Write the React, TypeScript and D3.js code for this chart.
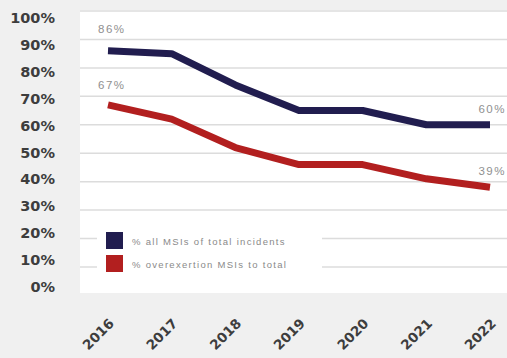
import React from "react";
import * as d3 from "d3";

const years = ["2016", "2017", "2018", "2019", "2020", "2021", "2022"];
const allMSIs = [86, 85, 74, 65, 65, 60, 60];
const overexertion = [67, 62, 52, 46, 46, 41, 38];
const yTicks = [100, 90, 80, 70, 60, 50, 40, 30, 20, 10, 0];
const legendLabels = ["% all MSIs of total incidents", "% overexertion MSIs to total"];
const endLabels = { allStart: "86%", overStart: "67%", allEnd: "60%", overEnd: "39%" };

const W = 507;
const H = 358;
const BLUE = "#211d4f";
const RED = "#b21f1f";

export default function App() {
  const x = d3.scalePoint<string>().domain(years).range([108, 490]);
  const y = d3.scaleLinear().domain([0, 100]).range([295.4, 11]);
  const yLabel = d3.scaleLinear().domain([0, 100]).range([287, 18]);

  const line = d3
    .line<number>()
    .x((_, i) => x(years[i]) as number)
    .y((d) => y(d))
    .curve(d3.curveLinear);

  const plotLeft = 80;
  const plotTop = 10;
  const plotBottom = 293;

  return (
    <svg
      width={W}
      height={H}
      style={{ position: "absolute", left: 0, top: 0, display: "block" }}
    >
      <defs>
        <clipPath id="plot">
          <rect x={plotLeft} y={plotTop} width={W - plotLeft} height={plotBottom - plotTop} />
        </clipPath>
      </defs>
      <rect x={0} y={0} width={W} height={H} fill="#f0f0f0" />
      <rect x={plotLeft} y={plotTop} width={W - plotLeft} height={plotBottom - plotTop} fill="#ffffff" />
      <g clipPath="url(#plot)">
        {yTicks.map((t) => (
          <line
            key={t}
            x1={plotLeft}
            x2={W}
            y1={y(t)}
            y2={y(t)}
            stroke="#dcdcdc"
            strokeWidth={1.5}
          />
        ))}
      </g>
      <rect x={97} y={224} width={225} height={56} fill="#ffffff" />
      {yTicks.map((t) => (
        <text
          key={t}
          x={55}
          y={yLabel(t)}
          textAnchor="end"
          dominantBaseline="central"
          fontFamily="DejaVu Sans"
          fontWeight="bold"
          fontSize={14.5}
          fill="#3d3d3d"
        >
          {t}%
        </text>
      ))}
      <path d={line(allMSIs) || ""} fill="none" stroke={BLUE} strokeWidth={7} strokeLinejoin="round" />
      <path d={line(overexertion) || ""} fill="none" stroke={RED} strokeWidth={7} strokeLinejoin="round" />

      <g fontFamily="Liberation Sans" fontSize={11.5} fill="#909090" letterSpacing={1.5}>
        <text x={98} y={y(allMSIs[0]) - 22} dominantBaseline="central">
          {endLabels.allStart}
        </text>
        <text x={98} y={y(overexertion[0]) - 20} dominantBaseline="central">
          {endLabels.overStart}
        </text>
        <text x={506} y={y(allMSIs[6]) - 16} textAnchor="end" dominantBaseline="central">
          {endLabels.allEnd}
        </text>
        <text x={506} y={y(overexertion[6]) - 16} textAnchor="end" dominantBaseline="central">
          {endLabels.overEnd}
        </text>
      </g>

      {legendLabels.map((l, i) => (
        <g key={l}>
          <rect x={106} y={232 + i * 23} width={17} height={17} fill={i === 0 ? BLUE : RED} />
          <text
            x={132}
            y={241 + i * 23}
            dominantBaseline="central"
            fontFamily="Liberation Sans"
            fontSize={9.5}
            letterSpacing={1.3}
            fill="#8a8a8a"
          >
            {l}
          </text>
        </g>
      ))}

      {years.map((yr) => {
        const cx = (x(yr) as number) - 10;
        const cy = 334;
        return (
          <text
            key={yr}
            x={cx}
            y={cy}
            textAnchor="middle"
            dominantBaseline="central"
            transform={`rotate(-45 ${cx} ${cy})`}
            fontFamily="DejaVu Sans"
            fontWeight="bold"
            fontSize={13.5}
            fill="#3d3d3d"
          >
            {yr}
          </text>
        );
      })}
    </svg>
  );
}
